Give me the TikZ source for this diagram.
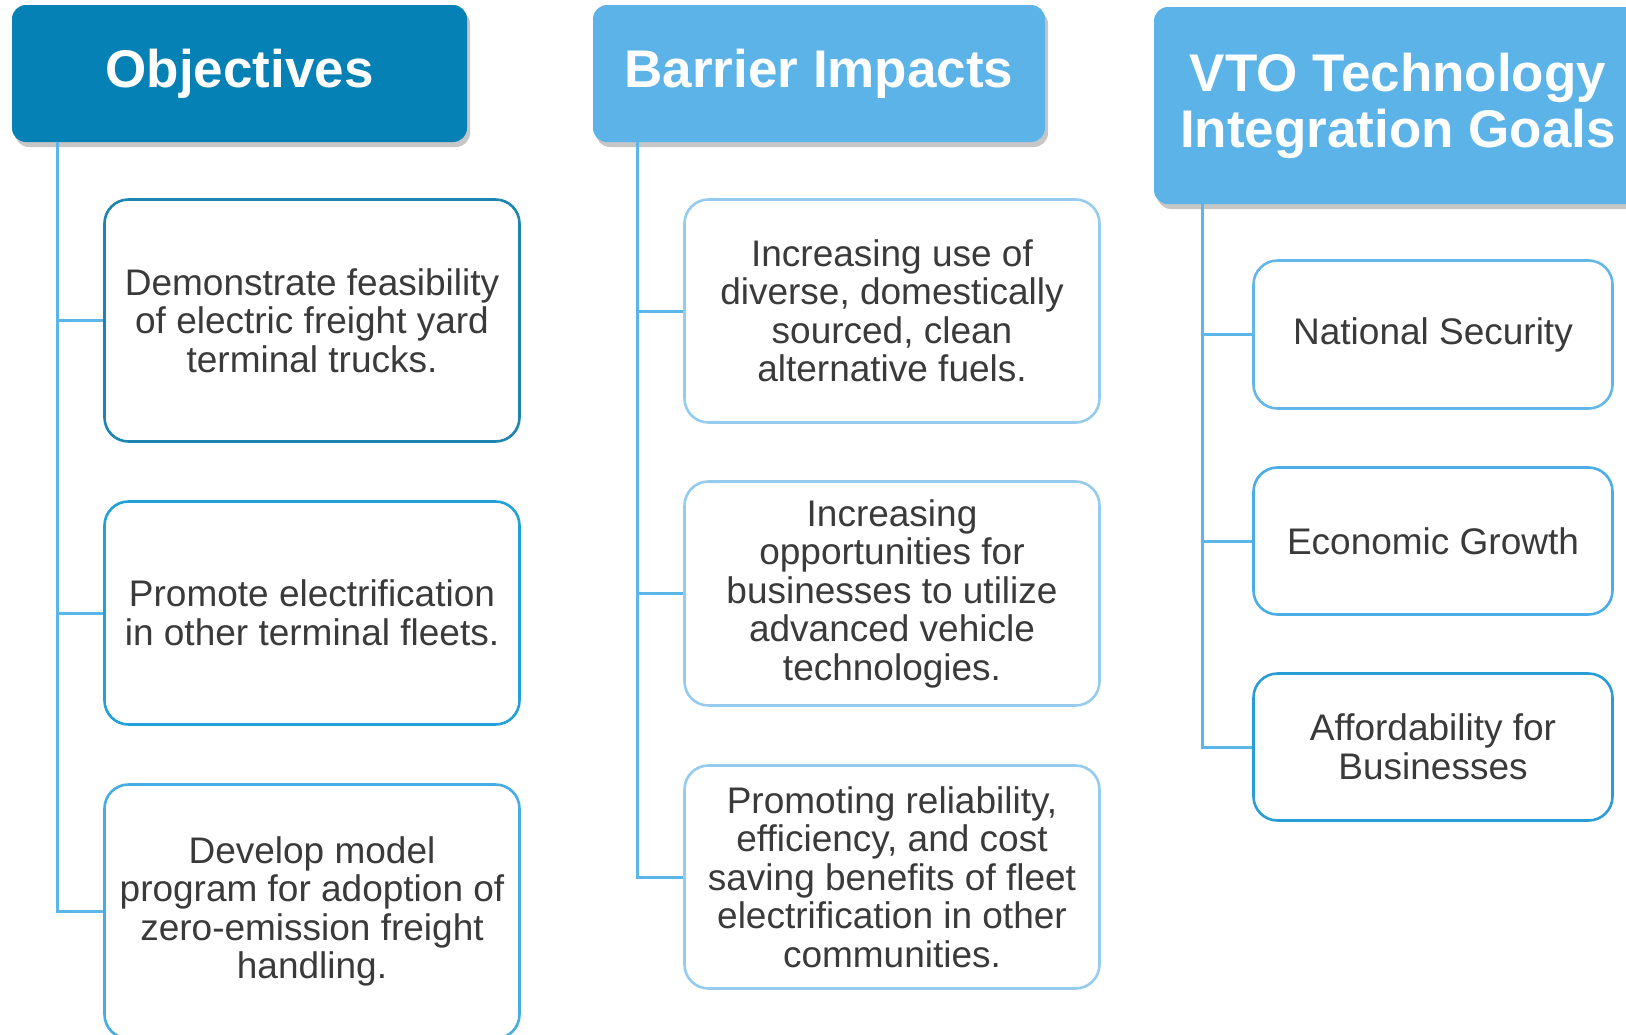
\documentclass[tikz,border=0pt]{standalone}
\usepackage{fontspec}
\setmainfont{Liberation Sans}
\usepackage{xcolor}
\usetikzlibrary{positioning,shadows}
\definecolor{hddark}{HTML}{0581B5}
\definecolor{hdlight}{HTML}{5BB3E8}
\definecolor{linkblue}{HTML}{5BB6EA}
\definecolor{txtgray}{HTML}{3A3A3A}
\definecolor{objA}{HTML}{1D84B0}
\definecolor{objB}{HTML}{22A0DA}
\definecolor{objC}{HTML}{45ACE4}
\definecolor{barA}{HTML}{95CBEE}
\definecolor{vtoA}{HTML}{64B6E8}
\definecolor{vtoB}{HTML}{4AADE6}
\definecolor{vtoC}{HTML}{2A9CD6}

\begin{document}
\begin{tikzpicture}[x=1pt,y=-1pt,
  header/.style={rounded corners=14pt, text=white, align=center, inner sep=0pt,
    font=\fontsize{53}{56}\selectfont\bfseries,
    drop shadow={shadow xshift=3pt,shadow yshift=-5pt,opacity=.45}},
  item/.style={draw, line width=2.6pt, rounded corners=24pt, fill=white, text=txtgray,
    align=center, inner sep=0pt, font=\fontsize{37}{38.5}\selectfont},
  link/.style={linkblue, line width=3pt}]
\useasboundingbox (0,0) rectangle (1626,1034);
\clip (0,0) rectangle (1626,1034);

% headers
\node[header, fill=hddark, minimum width=455pt, minimum height=137pt] (objhd) at (239.5,73.5) {Objectives};
\node[header, fill=hdlight, minimum width=452pt, minimum height=137pt] (barhd) at (819,73.5) {Barrier Impacts};
\node[header, fill=hdlight, minimum width=488pt, minimum height=197pt] (vtohd) at (1398,105.5) {VTO Technology\\Integration Goals};

\coordinate (objtrunk) at ([xshift=46pt]objhd.south west);
\coordinate (bartrunk) at ([xshift=45pt]barhd.south west);
\coordinate (vtotrunk) at ([xshift=49pt]vtohd.south west);

% objectives
\node[item, draw=objA, minimum width=415pt, minimum height=242pt] (obj1) at (312,320.5) {Demonstrate feasibility\\of electric freight yard\\terminal trucks.};
\node[item, draw=objB, minimum width=415pt, minimum height=223pt] (obj2) at (312,613) {Promote electrification\\in other terminal fleets.};
\node[item, draw=objC, minimum width=415pt, minimum height=254pt] (obj3) at (312,911.5) {Develop model\\program for adoption of\\zero-emission freight\\handling.};

% barrier impacts
\node[item, draw=barA, minimum width=415pt, minimum height=223pt] (bar1) at (892,311) {Increasing use of\\diverse, domestically\\sourced, clean\\alternative fuels.};
\node[item, draw=barA, minimum width=415pt, minimum height=224pt] (bar2) at (892,593.5) {Increasing\\opportunities for\\businesses to utilize\\advanced vehicle\\technologies.};
\node[item, draw=barA, minimum width=415pt, minimum height=223pt] (bar3) at (892,877) {Promoting reliability,\\efficiency, and cost\\saving benefits of fleet\\electrification in other\\communities.};

% vto goals
\node[item, draw=vtoA, minimum width=359pt, minimum height=148pt] (vto1) at (1433,334.5) {National Security};
\node[item, draw=vtoB, minimum width=359pt, minimum height=147pt] (vto2) at (1433,541) {Economic Growth};
\node[item, draw=vtoC, minimum width=359pt, minimum height=147pt] (vto3) at (1433,747) {Affordability for\\Businesses};

\draw[link] (objtrunk) |- (obj1.west);
\draw[link] (objtrunk) |- (obj2.west);
\draw[link] (objtrunk) |- (obj3.west);
\draw[link] (bartrunk) |- (bar1.west);
\draw[link] (bartrunk) |- (bar2.west);
\draw[link] (bartrunk) |- (bar3.west);
\draw[link] (vtotrunk) |- (vto1.west);
\draw[link] (vtotrunk) |- (vto2.west);
\draw[link] (vtotrunk) |- (vto3.west);
\end{tikzpicture}
\end{document}
